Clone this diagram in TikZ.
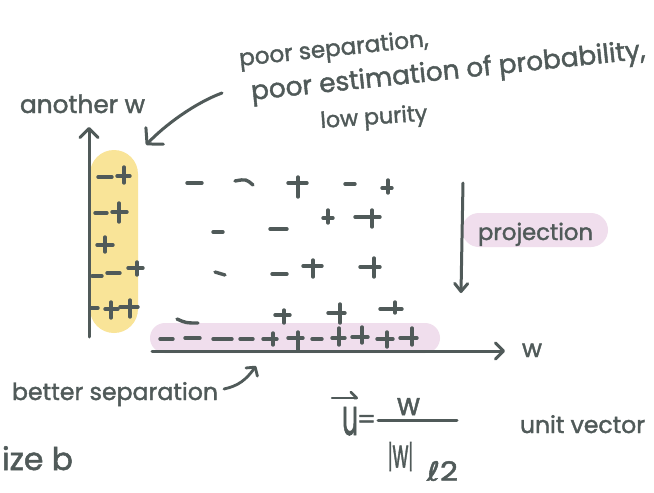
\documentclass[tikz,border=0pt]{standalone}
\usepackage{fontspec}
\setmainfont{Poppins}[FakeBold=1.6]
\newfontfamily\dejavu{DejaVu Sans}[FakeBold=1.6]
\usetikzlibrary{arrows.meta}
\definecolor{ink}{RGB}{80,90,89}
\definecolor{hlyellow}{RGB}{249,228,152}
\definecolor{hlpink}{RGB}{240,222,237}
\newcommand\hwtext[2]{\resizebox{#1pt}{!}{#2}}
\newcommand\mkminus[3]{\draw[sym] (#1,#3) -- (#2,#3);}
\newcommand\mkplus[6]{\draw[sym] (#1,#3) -- (#2,#3) (#4,#5) -- (#4,#6);}
\tikzset{
  sym/.style={draw=ink, line width=3.4pt, line cap=round},
  hw/.style={text=ink, inner sep=0pt, outer sep=0pt},
  inkline/.style={draw=ink, line width=3pt, line cap=round, line join=round},
  pill/.style={inner sep=0pt, outer sep=0pt}
}
\begin{document}
\begin{tikzpicture}[x=1pt,y=-1pt]
\fill[white] (0,0) rectangle (654,493);
\path[use as bounding box] (0,0) rectangle (654,493);

% highlights
\node[pill, fill=hlyellow, rounded corners=24pt, minimum width=48pt, minimum height=183pt] (ypill) at (114,241.5) {};
\node[pill, fill=hlpink, rounded corners=15pt, minimum width=290pt, minimum height=30pt] (bpill) at (295,338) {};
\node[pill, fill=hlpink, rounded corners=17pt, minimum width=146pt, minimum height=34pt] (ppill) at (535,230) {};

% axes
\coordinate (vbot) at (89,337);
\coordinate (vtop) at (89,127);
\coordinate (hleft) at (152,351);
\coordinate (hright) at (505,351);
\draw[inkline, -{Straight Barb[round, length=9pt, width=18pt]}] (vbot) -- (vtop);
\draw[inkline, -{Straight Barb[round, length=8pt, width=16pt]}] (hleft) -- (hright);

% projection arrow
\coordinate (projtop) at (463,183);
\coordinate (projbot) at (461,293);
\draw[inkline, -{Straight Barb[round, length=8pt, width=13pt]}] (projtop) -- (projbot);

% labels
\node[hw, anchor=base west] (anotherw) at (20,113) {\hwtext{125}{another w}};
\node[hw, anchor=base west] (wlabel) at (522,357) {\hwtext{20}{w}};
\node[hw, anchor=base west] (proj) at (478,240) {\hwtext{115}{projection}};
\node[hw, anchor=base west, rotate=6] (ann1) at (240,66) {\hwtext{190}{poor separation,}};
\node[hw, anchor=base west, rotate=6] (ann2) at (252,100) {\hwtext{396}{poor estimation of probability,}};
\node[hw, anchor=base west, rotate=4] (ann3) at (321,128) {\hwtext{107}{low purity}};
\node[hw, anchor=base west] (better) at (12,400) {\hwtext{206}{better separation}};
\node[hw, anchor=base west] (izeb) at (2,470) {\hwtext{71}{ize b}};
\node[hw, anchor=base west] (unitvec) at (520,433) {\hwtext{125}{unit vector}};

% annotation arrows
\coordinate (annS) at (222,93);
\coordinate (annE) at (146,145);
\draw[inkline, -{Straight Barb[round, length=11pt, width=24pt]}] (annS) .. controls (195,103) and (165,125) .. (annE);
\coordinate (betS) at (224,389);
\coordinate (betE) at (256,366);
\draw[inkline, line width=2.8pt, -{Straight Barb[round, length=6pt, width=14pt]}] (betS) .. controls (238,386) and (246,380) .. (betE);

% formula
\node[hw, anchor=base west] (uvar) at (342,435) {\resizebox{16pt}{28pt}{u}};
\coordinate (uarrL) at (332,398);
\coordinate (uarrR) at (358,398);
\draw[inkline, line width=2.5pt, -{Straight Barb[round, harpoon, length=6pt, width=12pt]}] (uarrL) -- (uarrR);
\node[hw, anchor=base west] (eqsign) at (357,428) {\resizebox{19pt}{13pt}{=}};
\coordinate (fracL) at (378,420);
\coordinate (fracR) at (457,420);
\draw[inkline] (fracL) -- (fracR);
\node[hw, anchor=base west] (num) at (397,415) {\resizebox{23pt}{17pt}{w}};
\node[hw, anchor=south west] (den) at (388,471) {\resizebox*{25pt}{29pt}{|\resizebox{!}{0.68em}{w}|}};
\node[hw, anchor=south west] (sub) at (427,481) {\resizebox*{31pt}{20pt}{{\dejavu ℓ}2}};

% yellow column marks
\mkminus{98}{112}{177} \mkplus{117}{130}{176}{124}{167}{183}
\mkminus{95}{107}{213} \mkplus{112}{127}{212}{119}{203}{222}
\mkplus{97}{113}{245}{105}{237}{252}
\mkminus{92}{102}{276} \mkminus{107}{120}{273} \mkplus{128}{143}{268}{137}{262}{275}
\mkminus{90}{98}{308} \mkplus{105}{118}{309}{111}{302}{318} \mkplus{120}{138}{307}{130}{300}{317}

% scattered marks
\mkminus{187}{202}{183}
\draw[sym] (235,181) .. controls (246,179) .. (253,185);
\mkplus{288}{307}{183}{298}{177}{197}
\mkminus{345}{355}{184}
\mkplus{382}{392}{188}{388}{180}{193}

\mkminus{213}{223}{232}
\mkminus{270}{287}{229}
\mkplus{323}{333}{218}{328}{210}{223}
\mkplus{355}{380}{217}{372}{210}{227}

\draw[sym] (215,272) -- (225,275);
\mkminus{272}{287}{274}
\mkplus{303}{322}{266}{313}{260}{277}
\mkplus{360}{380}{267}{374}{258}{277}

\draw[sym] (177,319) .. controls (186,323) .. (198,323);
\mkplus{275}{290}{315}{284}{310}{323}
\mkplus{328}{345}{313}{340}{304}{323}
\mkplus{380}{402}{309}{395}{302}{313}

% projected marks
\mkminus{160}{173}{339}
\mkminus{185}{200}{338}
\mkminus{213}{232}{339}
\mkminus{240}{253}{339}
\mkplus{263}{277}{339}{273}{333}{345}
\mkplus{288}{303}{338}{298}{332}{350}
\mkminus{312}{322}{339}
\mkplus{332}{345}{338}{339}{328}{345}
\mkplus{352}{368}{337}{362}{327}{343}
\mkplus{377}{393}{339}{387}{332}{347}
\mkplus{400}{417}{338}{412}{328}{345}
\end{tikzpicture}
\end{document}
